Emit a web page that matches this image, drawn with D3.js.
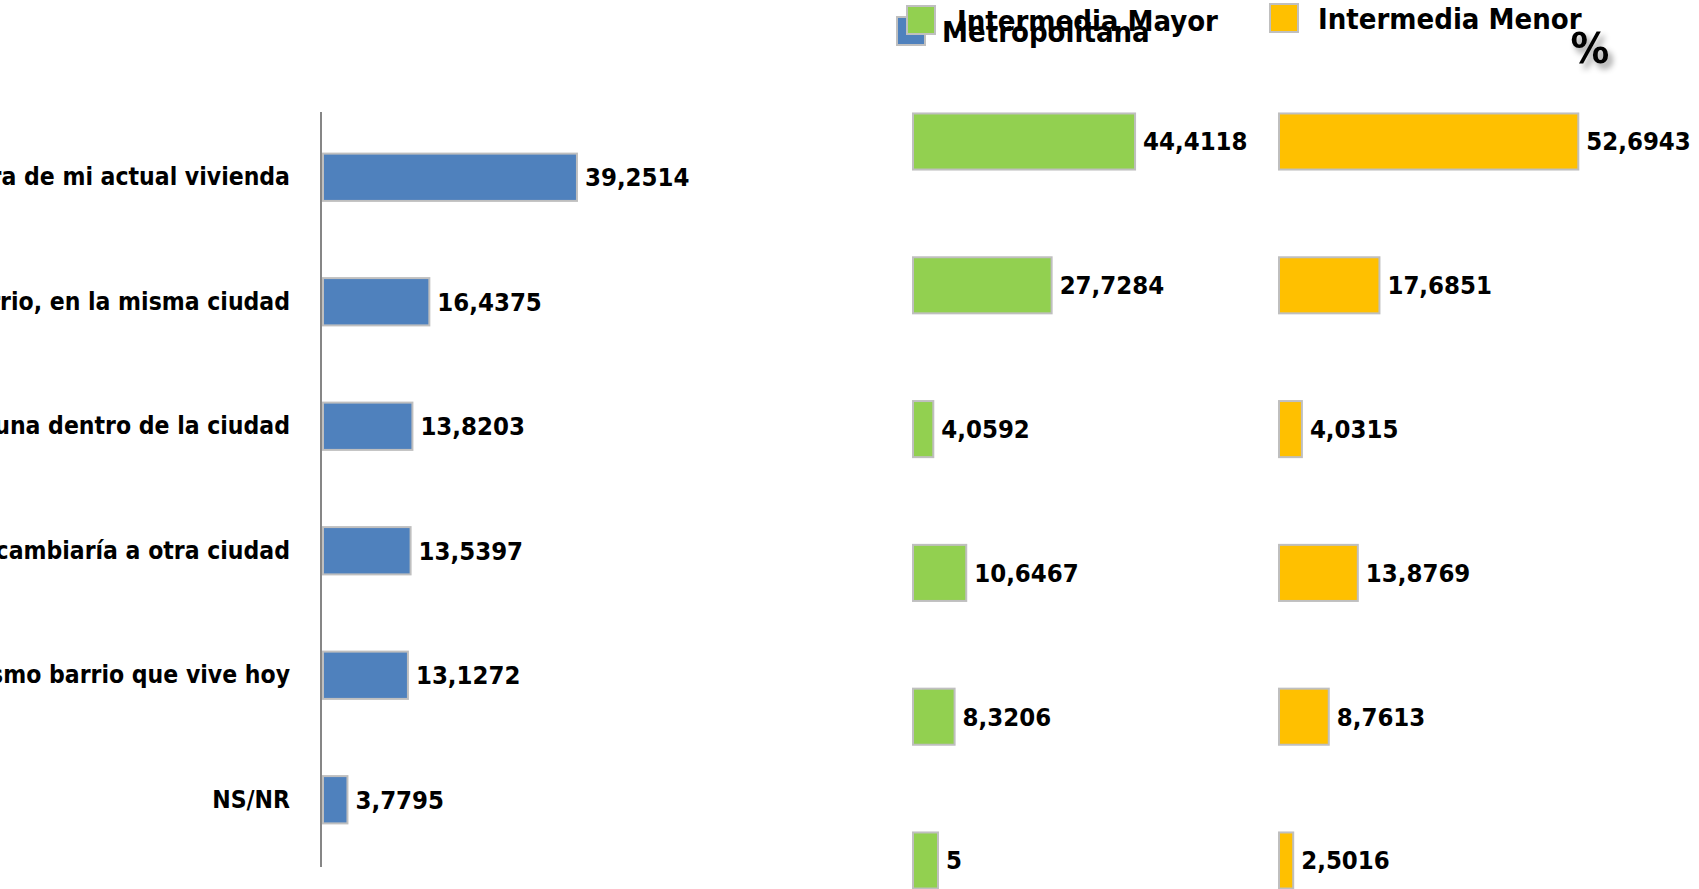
<!DOCTYPE html>
<html>
<head>
<meta charset="utf-8">
<script src="https://cdn.jsdelivr.net/npm/d3@7"></script>
<style>
	body { margin: 0; background: #fff; }
	svg text { font-family: "DejaVu Sans Condensed", "DejaVu Sans", sans-serif; font-stretch: condensed; fill: #000; }
</style>
</head>
<body>
<div id="svg-container"></div>
<script>

// DATA
const categories = [
	"Haría una ampliación o mejora de mi actual vivienda",
	"Me cambiaría a otro barrio, en la misma ciudad",
	"Me cambiaría a otra comuna dentro de la ciudad",
	"Me cambiaría a otra ciudad",
	"Me cambiaría de casa en el mismo barrio que vive hoy",
	"NS/NR"
];
const metropolitana = [39.2514, 16.4375, 13.8203, 13.5397, 13.1272, 3.7795];
const intermediaMayor = [44.4118, 27.7284, 4.0592, 10.6467, 8.3206, 5];
const intermediaMenor = [52.6943, 17.6851, 4.0315, 13.8769, 8.7613, 2.5016];
const seriesNames = ["Metropolitana", "Intermedia Mayor", "Intermedia Menor"];
const seriesColors = ["#4f81bd", "#92d050", "#ffc000"];


// number label with decimal comma
const fmt = v => String(v).replace(".", ",");


// CHART
function drawChart() {
	const w = 1699;
	const h = 889;
	const stroke = "#bfbfbf";

	const svg = d3.select("#svg-container")
		.append("svg")
		.attr("width", w)
		.attr("height", h);

	// shadow for the % sign
	svg.append("defs")
		.append("filter")
		.attr("id", "shadow")
		.attr("x", "-50%").attr("y", "-50%")
		.attr("width", "200%").attr("height", "200%")
		.append("feDropShadow")
		.attr("dx", 4)
		.attr("dy", 5)
		.attr("stdDeviation", 3)
		.attr("flood-color", "#000")
		.attr("flood-opacity", 0.45);


	// ---- left panel: Metropolitana
	const yLeft = d3.scaleBand()
		.domain(categories)
		.range([115, 862])
		.paddingInner(0.62)
		.paddingOuter(0.31);
	const xLeft = d3.scaleLinear()
		.domain([0, 40])
		.range([323, 323 + 40 * 6.47]);

	// axis line only
	const leftAxis = d3.axisLeft(yLeft).tickSize(0).tickFormat("");
	svg.append("g")
		.attr("transform", "translate(321, 0)")
		.call(leftAxis)
		.call(g => g.select(".domain")
			.attr("d", "M0,112V867")
			.attr("stroke", "#868686")
			.attr("stroke-width", 2));

	// category labels
	svg.append("g")
		.selectAll("text")
		.data(categories)
		.enter()
		.append("text")
		.attr("x", 290)
		.attr("y", d => yLeft(d) + yLeft.bandwidth() / 2)
		.attr("dy", "0.32em")
		.attr("text-anchor", "end")
		.style("font-size", "24.5px")
		.style("font-weight", "bold")
		.text(d => d);

	drawBars(svg, metropolitana, yLeft, xLeft, seriesColors[0], stroke);


	// ---- right panels
	const yRight = d3.scaleBand()
		.domain(categories)
		.range([69.6, 932.4])
		.paddingInner(0.61)
		.paddingOuter(0.305);

	const xMayor = d3.scaleLinear()
		.domain([0, 50])
		.range([913, 913 + 50 * 5.0]);
	drawBars(svg, intermediaMayor, yRight, xMayor, seriesColors[1], stroke);

	const xMenor = d3.scaleLinear()
		.domain([0, 60])
		.range([1279, 1279 + 60 * 5.68]);
	drawBars(svg, intermediaMenor, yRight, xMenor, seriesColors[2], stroke);


	// ---- legend
	const legend = [
		{ name: seriesNames[0], color: seriesColors[0], x: 897, y: 17, tx: 942, ty: 42 },
		{ name: seriesNames[1], color: seriesColors[1], x: 907, y: 6, tx: 957, ty: 31 },
		{ name: seriesNames[2], color: seriesColors[2], x: 1270, y: 4, tx: 1318, ty: 29 }
	];
	const lg = svg.append("g")
		.selectAll("g")
		.data(legend)
		.enter()
		.append("g");
	lg.append("rect")
		.attr("x", d => d.x)
		.attr("y", d => d.y)
		.attr("width", 28)
		.attr("height", 28)
		.attr("fill", d => d.color)
		.attr("stroke", stroke)
		.attr("stroke-width", 2);
	lg.append("text")
		.attr("x", d => d.tx)
		.attr("y", d => d.ty)
		.style("font-size", "29px")
		.style("font-weight", "bold")
		.text(d => d.name);

	// % sign
	svg.append("text")
		.attr("x", 1590)
		.attr("y", 63)
		.attr("text-anchor", "middle")
		.attr("filter", "url(#shadow)")
		.style("font-size", "43px")
		.style("font-weight", "bold")
		.text("%");
}


// bars + value labels for one series
function drawBars(svg, values, yScale, xScale, color, stroke) {
	const g = svg.append("g");
	const rows = values.map((v, i) => ({ cat: categories[i], v: v }));

	g.selectAll("rect")
		.data(rows)
		.enter()
		.append("rect")
		.attr("x", xScale(0))
		.attr("y", d => yScale(d.cat))
		.attr("width", d => xScale(d.v) - xScale(0))
		.attr("height", yScale.bandwidth())
		.attr("fill", color)
		.attr("stroke", stroke)
		.attr("stroke-width", 2);

	g.selectAll("text")
		.data(rows)
		.enter()
		.append("text")
		.attr("x", d => xScale(d.v) + 8)
		.attr("y", d => yScale(d.cat) + yScale.bandwidth() / 2)
		.attr("dy", "0.35em")
		.style("font-size", "25.5px")
		.style("font-weight", "bold")
		.text(d => fmt(d.v));
}


document.addEventListener("DOMContentLoaded", () => {
	drawChart();
});
</script>
</body>
</html>
